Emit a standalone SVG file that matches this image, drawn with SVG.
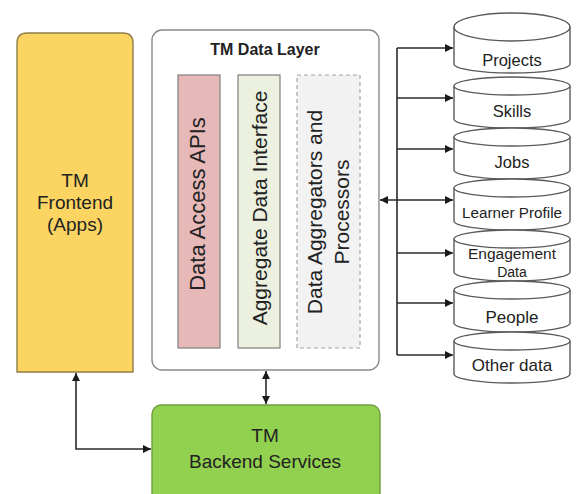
<svg xmlns="http://www.w3.org/2000/svg" width="578" height="494" viewBox="0 0 578 494">
<defs>
<style>
text{font-family:"Liberation Sans",Arial,sans-serif;fill:#222;text-anchor:middle}
.big{font-size:19px}
.cyl{fill:#fff;stroke:#5a5a5a;stroke-width:1.4}
.cylt{font-size:16.5px}
.small{font-size:14px}
.conn{fill:none;stroke:#2b2b2b;stroke-width:1.6}
.vt{font-size:21px}
</style>
<marker id="arr" viewBox="0 0 10 10" refX="10" refY="5" markerWidth="8" markerHeight="8" markerUnits="userSpaceOnUse" orient="auto-start-reverse">
<path d="M0,0 L10,5 L0,10 Z" fill="#1a1a1a"/>
</marker>
</defs>
<rect width="578" height="494" fill="#fff"/>

<g id="frontend">
<path d="M17,372 V43 Q17,33 27,33 H123 Q133,33 133,43 V372 Z" fill="#FBD462" stroke="#8f7d4a" stroke-width="1.4"/>
<text class="big" x="75" y="187">TM</text>
<text class="big" x="75" y="209">Frontend</text>
<text class="big" x="75" y="231">(Apps)</text>
</g>

<g id="data-layer">
<rect x="152" y="30" width="227" height="340" rx="10" fill="#fff" stroke="#8a8a8a" stroke-width="1.4"/>
<text x="265" y="55" style="font-size:16px;font-weight:bold">TM Data Layer</text>
</g>

<g id="data-access-apis">
<rect x="178" y="75" width="42" height="273" fill="#E6B9B8" stroke="#7f7f7f" stroke-width="1.2"/>
<text class="vt" style="font-size:22px" transform="translate(205,204) rotate(-90)">Data Access APIs</text>
</g>

<g id="aggregate-data-interface">
<rect x="238" y="75" width="42" height="273" fill="#EBF1DE" stroke="#7f7f7f" stroke-width="1.2"/>
<text class="vt" transform="translate(267,208) rotate(-90)">Aggregate Data Interface</text>
</g>

<g id="data-aggregators">
<rect x="297" y="75" width="63" height="273" fill="#F2F2F2" stroke="#a6a6a6" stroke-width="1.2" stroke-dasharray="4 3"/>
<text class="vt" transform="translate(322,212) rotate(-90)">Data Aggregators and</text>
<text class="vt" transform="translate(349,212) rotate(-90)">Processors</text>
</g>

<g id="backend">
<rect x="152" y="405" width="228" height="100" rx="9" fill="#92D050" stroke="#6f9e3f" stroke-width="1.4"/>
<text class="big" x="265" y="442">TM</text>
<text class="big" x="265" y="468">Backend Services</text>
</g>

<g id="projects">
<path class="cyl" d="M454,27 V64 A58,9 0 0 0 570,64 V27 A58,14 0 0 0 454,27 Z"/>
<path class="cyl" d="M454,27 A58,14 0 0 0 570,27" fill="none"/>
<text class="cylt" x="512" y="66">Projects</text>
</g>

<g id="skills">
<path class="cyl" d="M454,86 V119 A58,9 0 0 0 570,119 V86 A58,9 0 0 0 454,86 Z"/>
<path class="cyl" d="M454,86 A58,9 0 0 0 570,86" fill="none"/>
<text class="cylt" x="512" y="117">Skills</text>
</g>

<g id="jobs">
<path class="cyl" d="M454,137 V170 A58,9 0 0 0 570,170 V137 A58,9 0 0 0 454,137 Z"/>
<path class="cyl" d="M454,137 A58,9 0 0 0 570,137" fill="none"/>
<text class="cylt" x="512" y="168">Jobs</text>
</g>

<g id="learner-profile">
<path class="cyl" d="M454,188 V221 A58,9 0 0 0 570,221 V188 A58,9 0 0 0 454,188 Z"/>
<path class="cyl" d="M454,188 A58,9 0 0 0 570,188" fill="none"/>
<text class="small" x="512" y="218" textLength="100" lengthAdjust="spacingAndGlyphs">Learner Profile</text>
</g>

<g id="engagement-data">
<path class="cyl" d="M454,239 V272 A58,9 0 0 0 570,272 V239 A58,9 0 0 0 454,239 Z"/>
<path class="cyl" d="M454,239 A58,9 0 0 0 570,239" fill="none"/>
<text class="small" x="512" y="259" textLength="88" lengthAdjust="spacingAndGlyphs">Engagement</text>
<text class="small" x="512" y="277">Data</text>
</g>

<g id="people">
<path class="cyl" d="M454,290 V323 A58,9 0 0 0 570,323 V290 A58,9 0 0 0 454,290 Z"/>
<path class="cyl" d="M454,290 A58,9 0 0 0 570,290" fill="none"/>
<text class="cylt" style="font-size:17px" x="512" y="323">People</text>
</g>

<g id="other-data">
<path class="cyl" d="M454,341 V374 A58,9 0 0 0 570,374 V341 A58,9 0 0 0 454,341 Z"/>
<path class="cyl" d="M454,341 A58,9 0 0 0 570,341" fill="none"/>
<text class="cylt" style="font-size:17px" x="512" y="371">Other data</text>
</g>

<g id="connectors">
<path class="conn" d="M76,373 V449 H151" marker-start="url(#arr)" marker-end="url(#arr)"/>
<path class="conn" d="M266,371 V404" marker-start="url(#arr)" marker-end="url(#arr)"/>
<path class="conn" d="M397,48 V355"/>
<path class="conn" d="M397,48 H453" marker-end="url(#arr)"/>
<path class="conn" d="M397,98 H453" marker-end="url(#arr)"/>
<path class="conn" d="M397,149 H453" marker-end="url(#arr)"/>
<path class="conn" d="M380,200 H453" marker-start="url(#arr)" marker-end="url(#arr)"/>
<path class="conn" d="M397,253 H453" marker-end="url(#arr)"/>
<path class="conn" d="M397,303 H453" marker-end="url(#arr)"/>
<path class="conn" d="M397,355 H453" marker-end="url(#arr)"/>
</g>
</svg>
